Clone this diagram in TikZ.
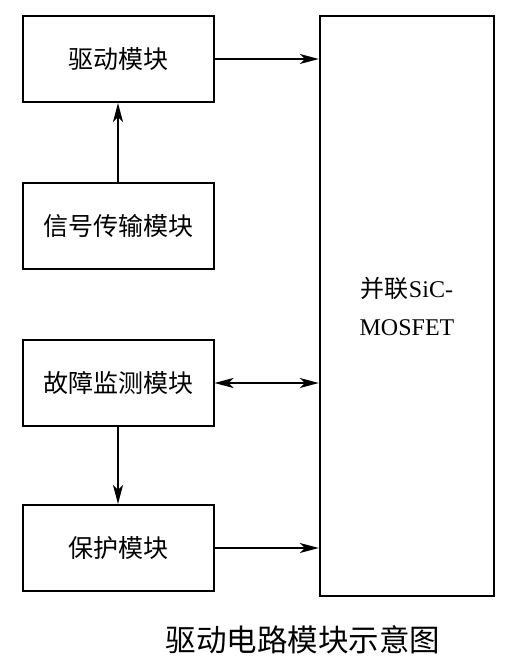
\documentclass[tikz,border=0pt]{standalone}
\usepackage{fontspec}
\setmainfont{Liberation Serif}
\newfontfamily\cjk{Noto Sans CJK SC}
\usetikzlibrary{arrows.meta}
\begin{document}
\begin{tikzpicture}[x=1pt,y=-1pt,
  blk/.style={draw,line width=2pt,minimum width=191pt,minimum height=86pt,inner sep=0pt,font=\cjk\fontsize{25}{30}\selectfont},
  big/.style={draw,line width=2.4pt,minimum width=174pt,minimum height=580pt,inner sep=0pt,align=center,font=\fontsize{24}{38}\selectfont},
  conn/.style={line width=1.5pt,-{Stealth[length=19pt,width=10pt,inset=5pt]}},
  conn2/.style={line width=1.5pt,{Stealth[length=19pt,width=10pt,inset=5pt]}-{Stealth[length=19pt,width=10pt,inset=5pt]}}]
\useasboundingbox (0,0) rectangle (528,663);
\node[blk] (drv) at (118,59) {驱动模块};
\node[blk] (sig) at (118,226) {信号传输模块};
\node[blk] (flt) at (118,383) {故障监测模块};
\node[blk] (prt) at (118,548) {保护模块};
\node[big] (mos) at (407,306) {{\cjk 并联}SiC-\\MOSFET};
\draw[conn] (drv.east) -- (drv.east -| mos.west);
\draw[conn] (sig.north) -- (drv.south);
\draw[conn2] (flt.east) -- (flt.east -| mos.west);
\draw[conn] (flt.south) -- (prt.north);
\draw[conn] (prt.east) -- (prt.east -| mos.west);
\node[font=\cjk\fontsize{30.5}{36}\selectfont] (cap) at (303,640) {驱动电路模块示意图};
\end{tikzpicture}
\end{document}
